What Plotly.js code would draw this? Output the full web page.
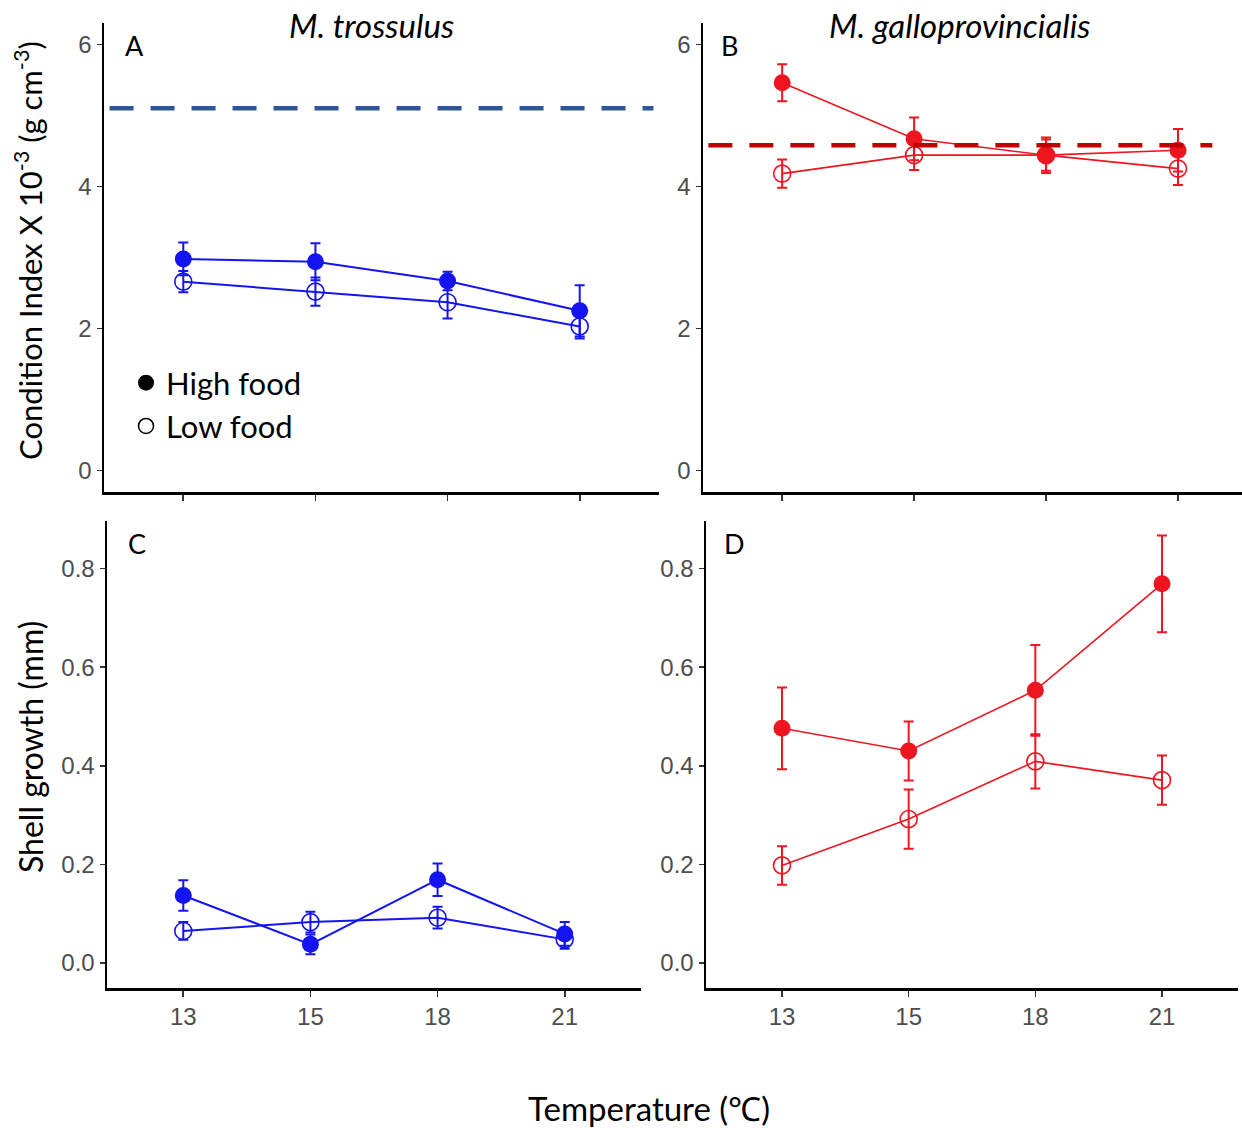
<!DOCTYPE html>
<html>
<head>
<meta charset="utf-8">
<script src="https://cdn.plot.ly/plotly-3.0.1.min.js"></script>
<style>html,body{margin:0;padding:0;background:#fff;}#chart{width:1242px;height:1128px;}</style>
</head>
<body>
<div id="chart"></div>
<script>
// ---- data ----
const temps = ['13', '15', '18', '21'];
const speciesTitles = ['M. trossulus', 'M. galloprovincialis'];
const panelLetters = ['A', 'B', 'C', 'D'];
const legendNames = ['High food', 'Low food'];
const axisTitles = ['Condition Index X 10<sup>-3</sup> (g cm<sup>-3</sup>)', 'Shell growth (mm)', 'Temperature (℃)'];

// Condition index (x10^-3 g cm^-3)
const ciTrossHigh = [2.98, 2.94, 2.67, 2.25];
const ciTrossHighErr = [0.23, 0.26, 0.13, 0.36];
const ciTrossLow = [2.66, 2.52, 2.37, 2.03];
const ciTrossLowErr = [0.15, 0.20, 0.23, 0.17];
const ciGalloHigh = [5.46, 4.67, 4.44, 4.51];
const ciGalloHighErr = [0.26, 0.30, 0.25, 0.30];
const ciGalloLow = [4.18, 4.44, 4.44, 4.25];
const ciGalloLowErr = [0.20, 0.21, 0.22, 0.23];
const ciRefTross = 5.10;
const ciRefGallo = 4.58;

// Shell growth (mm)
const sgTrossHigh = [0.137, 0.038, 0.169, 0.059];
const sgTrossHighErr = [0.031, 0.020, 0.033, 0.024];
const sgTrossLow = [0.065, 0.083, 0.092, 0.048];
const sgTrossLowErr = [0.018, 0.021, 0.022, 0.019];
const sgGalloHigh = [0.476, 0.430, 0.553, 0.769];
const sgGalloHighErr = [0.083, 0.060, 0.092, 0.098];
const sgGalloLow = [0.198, 0.292, 0.409, 0.371];
const sgGalloLowErr = [0.039, 0.060, 0.055, 0.050];

// ---- styles ----
const BLUE = '#1414F0';
const RED = '#EE1520';
const W = 1242, H = 1128;
const TITLE_FONT = 'Lato, "Open Sans", sans-serif';
const TICK_FONT = '"Liberation Sans", Arial, sans-serif';

function series(y, err, color, filled, xa, ya, lw) {
  return {
    type: 'scatter', mode: 'lines+markers', x: temps, y: y,
    xaxis: xa, yaxis: ya, showlegend: false, hoverinfo: 'skip',
    line: {color: color, width: lw},
    marker: filled
      ? {symbol: 'circle', size: 17, color: color}
      : {symbol: 'circle-open', size: 17, color: color, line: {width: 1.6, color: color}},
    error_y: {type: 'data', array: err, visible: true, color: color, thickness: 2, width: 5}
  };
}

const traces = [
  series(ciTrossLow, ciTrossLowErr, BLUE, false, 'x', 'y', 2),
  series(ciTrossHigh, ciTrossHighErr, BLUE, true, 'x', 'y', 2),
  series(ciGalloLow, ciGalloLowErr, RED, false, 'x2', 'y2', 1.6),
  series(ciGalloHigh, ciGalloHighErr, RED, true, 'x2', 'y2', 1.6),
  series(sgTrossLow, sgTrossLowErr, BLUE, false, 'x3', 'y3', 2),
  series(sgTrossHigh, sgTrossHighErr, BLUE, true, 'x3', 'y3', 2),
  series(sgGalloLow, sgGalloLowErr, RED, false, 'x4', 'y4', 1.6),
  series(sgGalloHigh, sgGalloHighErr, RED, true, 'x4', 'y4', 1.6),
  // legend entries
  {type: 'scatter', mode: 'markers', x: [null], y: [null], xaxis: 'x', yaxis: 'y',
   name: legendNames[0], legendgroup: 'g1', marker: {symbol: 'circle', size: 17, color: '#000'}},
  {type: 'scatter', mode: 'markers', x: [null], y: [null], xaxis: 'x', yaxis: 'y',
   name: legendNames[1], legendgroup: 'g2', marker: {symbol: 'circle-open', size: 15, color: '#000', line: {width: 1.5}}}
];

function xax(d0, d1, anchor, showLabels, range) {
  return {
    domain: [d0 / W, d1 / W], anchor: anchor, type: 'category',
    range: range, showline: true, linecolor: '#000', linewidth: 2.5,
    ticks: 'outside', ticklen: 6, tickwidth: 1.6, tickcolor: '#333',
    showticklabels: showLabels, showgrid: false, zeroline: false,
    tickfont: {family: TICK_FONT, size: 24, color: '#4D4D4D'}, fixedrange: true
  };
}
function yax(top, bottom, anchor, range, dtick, fmt) {
  return {
    domain: [(H - bottom) / H, (H - top) / H], anchor: anchor,
    range: range, dtick: dtick, tick0: 0, tickformat: fmt,
    showline: true, linecolor: '#000', linewidth: 2.5,
    ticks: 'outside', ticklen: 5, tickwidth: 1.6, tickcolor: '#333',
    showgrid: false, zeroline: false,
    tickfont: {family: TICK_FONT, size: 24, color: '#4D4D4D'}, fixedrange: true
  };
}

function ann(text, px, py, size, extra) {
  return Object.assign({text: text, xref: 'paper', yref: 'paper', x: px / W, y: 1 - py / H,
    xanchor: 'center', yanchor: 'middle', showarrow: false,
    font: {family: TITLE_FONT, size: size, color: '#000'}}, extra || {});
}

const layout = {
  width: W, height: H,
  margin: {l: 0, r: 0, t: 0, b: 0},
  paper_bgcolor: '#fff', plot_bgcolor: '#fff',
  showlegend: true,
  legend: {x: 126 / W, y: 1 - 356 / H, xanchor: 'left', yanchor: 'top',
           bgcolor: 'rgba(0,0,0,0)', traceorder: 'grouped', tracegroupgap: 0,
           font: {family: TITLE_FONT, size: 31, color: '#000'}, itemwidth: 30},
  xaxis: xax(104, 659, 'y', false, [-0.6, 3.6]),
  yaxis: yax(23, 492, 'x', [-0.3, 6.3], 2, 'd'),
  xaxis2: xax(703, 1242, 'y2', false, [-0.6, 3.485]),
  yaxis2: yax(23, 492, 'x2', [-0.3, 6.3], 2, 'd'),
  xaxis3: xax(107, 641, 'y3', true, [-0.6, 3.6]),
  yaxis3: yax(521, 988, 'x3', [-0.0506, 0.8964], 0.2, '.1f'),
  xaxis4: xax(706, 1238, 'y4', true, [-0.6, 3.6]),
  yaxis4: yax(521, 988, 'x4', [-0.0506, 0.8964], 0.2, '.1f'),
  shapes: [
    {type: 'line', xref: 'x domain', yref: 'y', x0: 0.01, x1: 0.99, y0: ciRefTross, y1: ciRefTross,
     line: {color: '#2E5597', width: 4.5, dash: '24px,17px'}, layer: 'above'},
    {type: 'line', xref: 'x2 domain', yref: 'y2', x0: 0.01, x1: 0.945, y0: ciRefGallo, y1: ciRefGallo,
     line: {color: '#C00000', width: 4.5, dash: '24px,17px'}, layer: 'above'}
  ],
  annotations: [
    ann('<i>' + speciesTitles[0] + '</i>', 371, 25, 33),
    ann('<i>' + speciesTitles[1] + '</i>', 960, 25, 33),
    ann(panelLetters[0], 134, 46, 27),
    ann(panelLetters[1], 730, 46, 27),
    ann(panelLetters[2], 137, 543, 27),
    ann(panelLetters[3], 734, 543, 27),
    ann(axisTitles[0], 29, 251, 31, {textangle: -90}),
    ann(axisTitles[1], 30, 747, 32, {textangle: -90}),
    ann(axisTitles[2], 649, 1108, 33)
  ]
};

Plotly.newPlot('chart', traces, layout, {displayModeBar: false, staticPlot: true});
</script>
</body>
</html>
